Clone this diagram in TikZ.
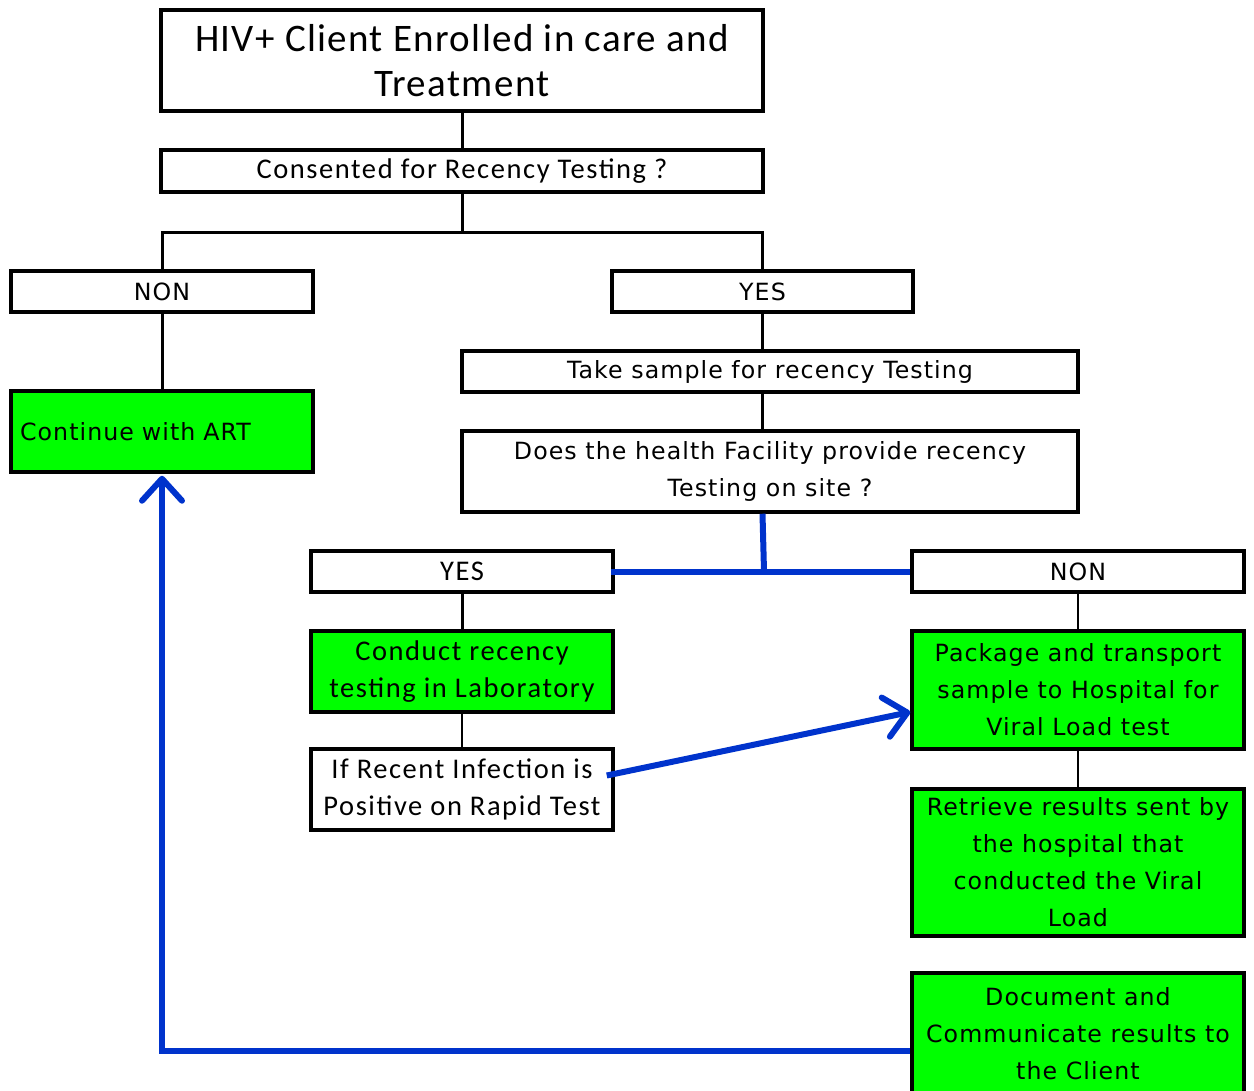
\documentclass[tikz,border=0pt]{standalone}
\usepackage{fontspec}
\setmainfont{DejaVu Sans}
\newfontfamily\calfont{Carlito}[LetterSpace=5.5]
\newfontfamily\caltitle{Carlito}[LetterSpace=3.5]
\newfontfamily\verfont{DejaVu Sans}[LetterSpace=4.5]
\usetikzlibrary{arrows.meta,calc}
\definecolor{stepgreen}{RGB}{0,255,0}
\definecolor{flowblue}{RGB}{0,51,204}
\begin{document}
\begin{tikzpicture}[x=1pt,y=-1pt,
  box/.style={draw=black, line width=3.5pt, fill=white, inner sep=0pt, align=center},
  greenbox/.style={box, fill=stepgreen},
  calt/.style={font=\calfont\fontsize{28.5}{37}\selectfont},
  vert/.style={font=\verfont\fontsize{23.7}{37}\selectfont},
  link/.style={draw=black, line width=3pt},
  thinlink/.style={draw=black, line width=2pt},
  flow/.style={draw=flowblue, line width=6pt},
  barb/.style={-{Straight Barb[length=22pt,width=40pt,line cap=round,line join=round]}}
]
\useasboundingbox (0,0) rectangle (1254,1091);

% boxes
\node[box, minimum width=602pt, minimum height=101pt, font=\caltitle\fontsize{39}{45}\selectfont]
  (enrolled) at (462,60.5) {HIV+ Client Enrolled in care and\\Treatment};
\node[box, calt, minimum width=602pt, minimum height=42pt] (consent) at (462,171) {Consented for Recency Testing ?};
\node[box, vert, minimum width=302pt, minimum height=41pt] (nonA) at (162,291.5) {NON};
\node[box, vert, minimum width=301pt, minimum height=41pt] (yesA) at (762.5,291.5) {YES};
\node[greenbox, vert, minimum width=302pt, minimum height=81pt, text width=284pt, align=left] (art) at (162,431.5) {Continue with ART};
\node[box, vert, minimum width=616pt, minimum height=41pt] (sample) at (770,371.5) {Take sample for recency Testing};
\node[box, vert, minimum width=616pt, minimum height=81pt] (onsite) at (770,471.5) {Does the health Facility provide recency\\Testing on site ?};
\node[box, calt, minimum width=302pt, minimum height=41pt] (yesB) at (462,571.5) {YES};
\node[box, vert, minimum width=332pt, minimum height=41pt] (nonB) at (1078,571.5) {NON};
\node[greenbox, calt, minimum width=302pt, minimum height=81pt] (lab) at (462,671.5) {Conduct recency\\testing in Laboratory};
\node[box, calt, minimum width=302pt, minimum height=81pt] (rapid) at (462,789.5) {If Recent Infection is\\Positive on Rapid Test};
\node[greenbox, vert, minimum width=332pt, minimum height=118pt] (pack) at (1078,690) {Package and transport\\sample to Hospital for\\Viral Load test};
\node[greenbox, vert, minimum width=332pt, minimum height=147pt] (retrieve) at (1078,862.5) {Retrieve results sent by\\the hospital that\\conducted the Viral\\Load};
\node[greenbox, vert, minimum width=332pt, minimum height=122pt] (document) at (1078,1034) {Document and\\Communicate results to\\the Client};

% black connectors
\draw[link] (enrolled.south) -- (consent.north);
\draw[link] (consent.south) -- ++(0,39) coordinate (split);
\draw[link] (nonA.north) |- (split) -| (yesA.north);
\draw[link] (nonA.south) -- (art.north);
\draw[link] (yesA.south) -- (yesA.south |- sample.north);
\draw[link] (yesA.south |- sample.south) -- (yesA.south |- onsite.north);
\draw[link] (yesB.south) -- (lab.north);
\draw[thinlink] (lab.south) -- (rapid.north);
\draw[thinlink] (nonB.south) -- (pack.north);
\draw[thinlink] (pack.south) -- (retrieve.north);

% blue connectors
\coordinate (fork) at (764,571);
\draw[flow] (yesA.south |- onsite.south) -- (fork);
\draw[flow] ($(yesB.east)+(-4,0)$) -- (nonB.west);
\coordinate (rapidout) at ($(rapid.east)+(-8,-14)$);
\draw[flow, barb] (rapidout) -- ($(pack.west)+(0,22)$);
\coordinate (turn) at (162,1051);
\draw[flow, barb] ($(document.west)+(0,17)$) -- (turn) -- ($(art.south)+(0,2)$);
\end{tikzpicture}
\end{document}
